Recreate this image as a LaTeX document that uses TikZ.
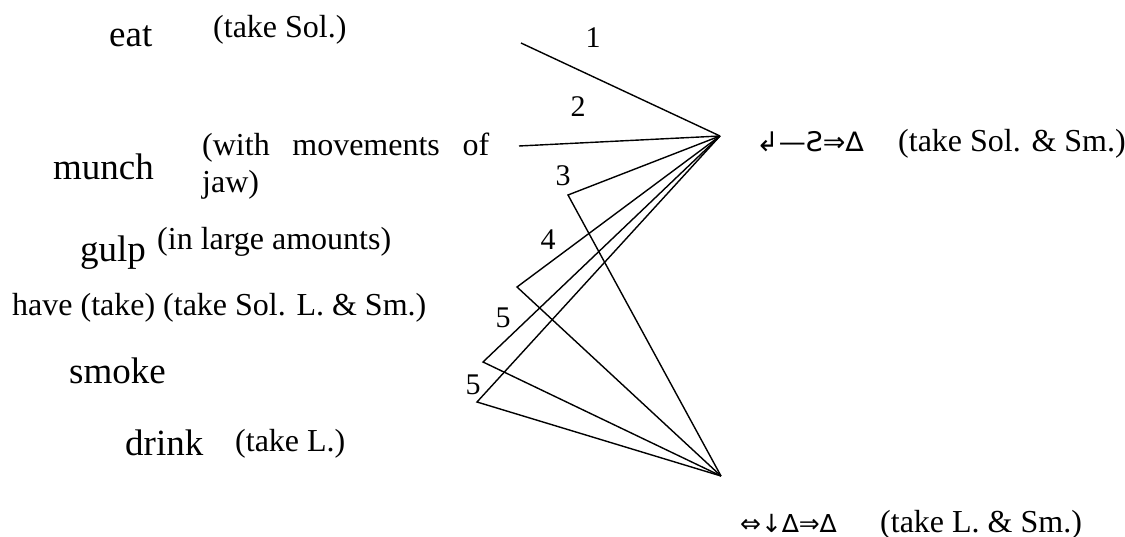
\documentclass[tikz,border=0pt]{standalone}
\usepackage{fontspec}
\setmainfont{Liberation Serif}
\newfontfamily\symfont{DejaVu Sans}
\tikzset{
  big/.style={inner sep=0pt, anchor=base west, font=\fontsize{37}{44}\selectfont},
  small/.style={inner sep=0pt, anchor=base west, font=\fontsize{32}{37}\selectfont},
  num/.style={inner sep=0pt, anchor=center, font=\fontsize{30}{33}\selectfont},
  glyphs/.style={inner sep=0pt, anchor=base west, font=\symfont\fontsize{27}{30}\selectfont},
  link/.style={draw=black, line width=1.4pt, line join=miter}
}
\begin{document}
\begin{tikzpicture}[x=1pt,y=-1pt]
\useasboundingbox (0,0) rectangle (1125,537);
% left column
\node[big] (eat) at (109,47) {eat};
\node[small] (eatnote) at (213,38) {(take Sol.)};
\node[big] (munch) at (53,180) {munch};
\node[small, text width=287pt, align=justify] (munchnote) at (202,156) {(with movements of jaw)};
\node[big] (gulp) at (80,262) {gulp};
\node[small] (gulpnote) at (157,250) {(in large amounts)};
\node[small] (have) at (12,316) {have (take) (take Sol. L. \& Sm.)};
\node[big] (smoke) at (69,384) {smoke};
\node[big] (drink) at (125,455) {drink};
\node[small] (drinknote) at (235,451) {(take L.)};
% right side
\node[glyphs] (topword) at (756,152) {↲—Ƨ⇒∆};
\node[small] (topnote) at (898,152) {(take Sol. \& Sm.)};
\node[glyphs, font=\symfont\fontsize{25}{28}\selectfont] (botword) at (740,532) {⇔↓∆⇒∆};
\node[small] (botnote) at (880,532) {(take L. \& Sm.)};
% hubs and free ends
\coordinate (hubA) at (720,136);
\coordinate (hubB) at (721,476);
\coordinate (e1) at (521,43);
\coordinate (e2) at (519,146);
\coordinate (e3) at (568,195);
\coordinate (e4) at (517,287);
\coordinate (e5) at (483,362);
\coordinate (e6) at (477,402);
% connectors
\draw[link] (e1) -- (hubA);
\draw[link] (e2) -- (hubA);
\draw[link] (hubA) -- (e3) -- (hubB);
\draw[link] (hubA) -- (e4) -- (hubB);
\draw[link] (hubA) -- (e5) -- (hubB);
\draw[link] (hubA) -- (e6) -- (hubB);
% numbers
\node[num] (n1) at (593,38) {1};
\node[num] (n2) at (578,107) {2};
\node[num] (n3) at (563,176) {3};
\node[num] (n4) at (548,240) {4};
\node[num] (n5a) at (503,318) {5};
\node[num] (n5b) at (473,385) {5};
\end{tikzpicture}
\end{document}
